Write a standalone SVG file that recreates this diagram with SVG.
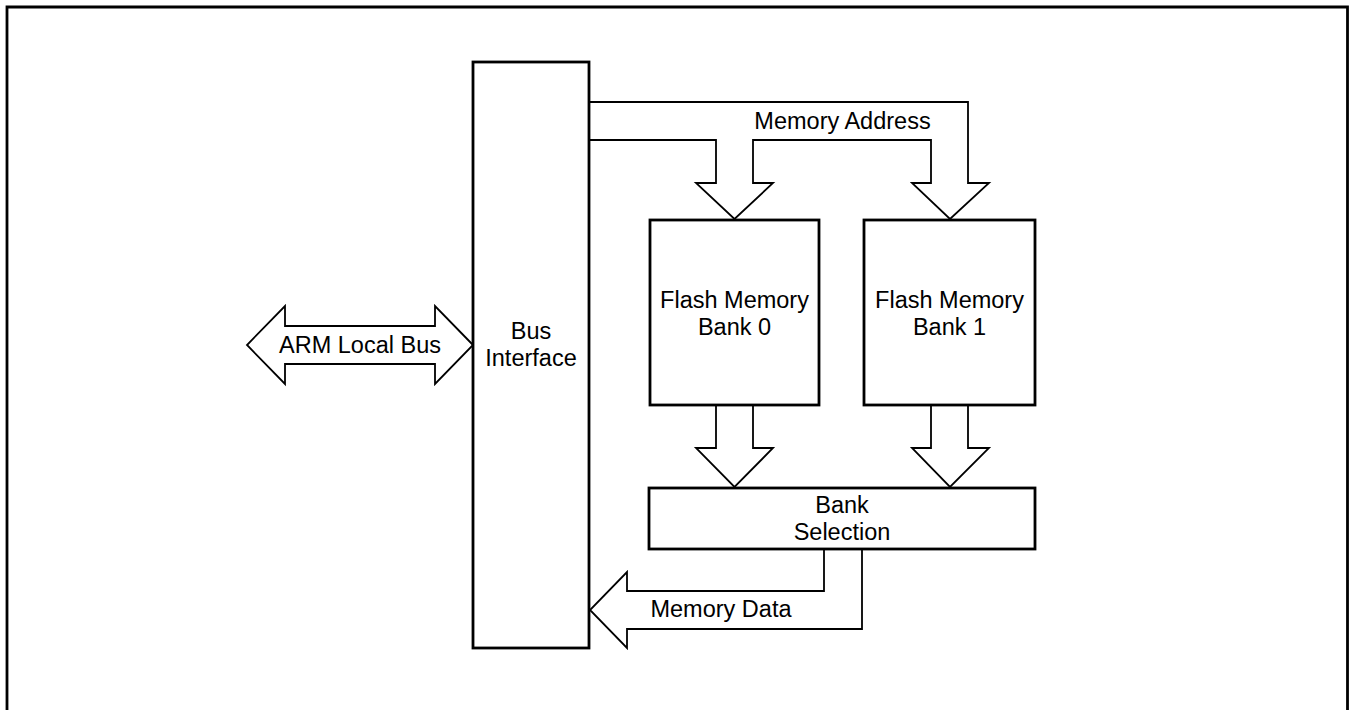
<svg xmlns="http://www.w3.org/2000/svg" width="1349" height="710" viewBox="0 0 1349 710">
<style>
.box{fill:#fff;stroke:#000;stroke-width:2.8}
.arr{fill:none;stroke:#000;stroke-width:1.8;stroke-linejoin:miter}
.t{font-family:"Liberation Sans",Arial,sans-serif;font-size:23.5px;fill:#000;text-anchor:middle}
</style>
<rect width="1349" height="710" fill="#fff"/>
<path d="M7,715 V7 H1347.5 V715" fill="none" stroke="#000" stroke-width="2.8"/>
<g id="connectors">
<path class="arr" d="M589,102 H968 V183 H989 L950,219 L912,183 H931 V140 H753 V183 H773 L734.5,219 L696,183 H716 V140 H589"/>
<path class="arr" d="M716,405 V448 H696 L734.5,487 L773,448 H753 V405"/>
<path class="arr" d="M931,405 V448 H912 L950,487 L989,448 H968 V405"/>
<path class="arr" d="M824,549 V591 H627 V572 L590,610 L627,648 V629 H862 V549"/>
<path class="arr" d="M473,345 L435,306 V326 H285 V306 L247,345 L285,384 V364 H435 V384 Z"/>
<text class="t" x="842.5" y="129">Memory Address</text>
<text class="t" x="721" y="617">Memory Data</text>
<text class="t" x="360" y="353">ARM Local Bus</text>
</g>
<g id="bus-interface">
<rect class="box" x="473" y="62" width="116" height="586"/>
<text class="t" x="531" y="339">Bus</text>
<text class="t" x="531" y="366">Interface</text>
</g>
<g id="flash-bank-0">
<rect class="box" x="650" y="220" width="169" height="185"/>
<text class="t" x="734.5" y="308">Flash Memory</text>
<text class="t" x="734.5" y="335">Bank 0</text>
</g>
<g id="flash-bank-1">
<rect class="box" x="864" y="220" width="171" height="185"/>
<text class="t" x="949.5" y="308">Flash Memory</text>
<text class="t" x="949.5" y="335">Bank 1</text>
</g>
<g id="bank-selection">
<rect class="box" x="649" y="488" width="386" height="61"/>
<text class="t" x="842" y="513">Bank</text>
<text class="t" x="842" y="540">Selection</text>
</g>
</svg>
